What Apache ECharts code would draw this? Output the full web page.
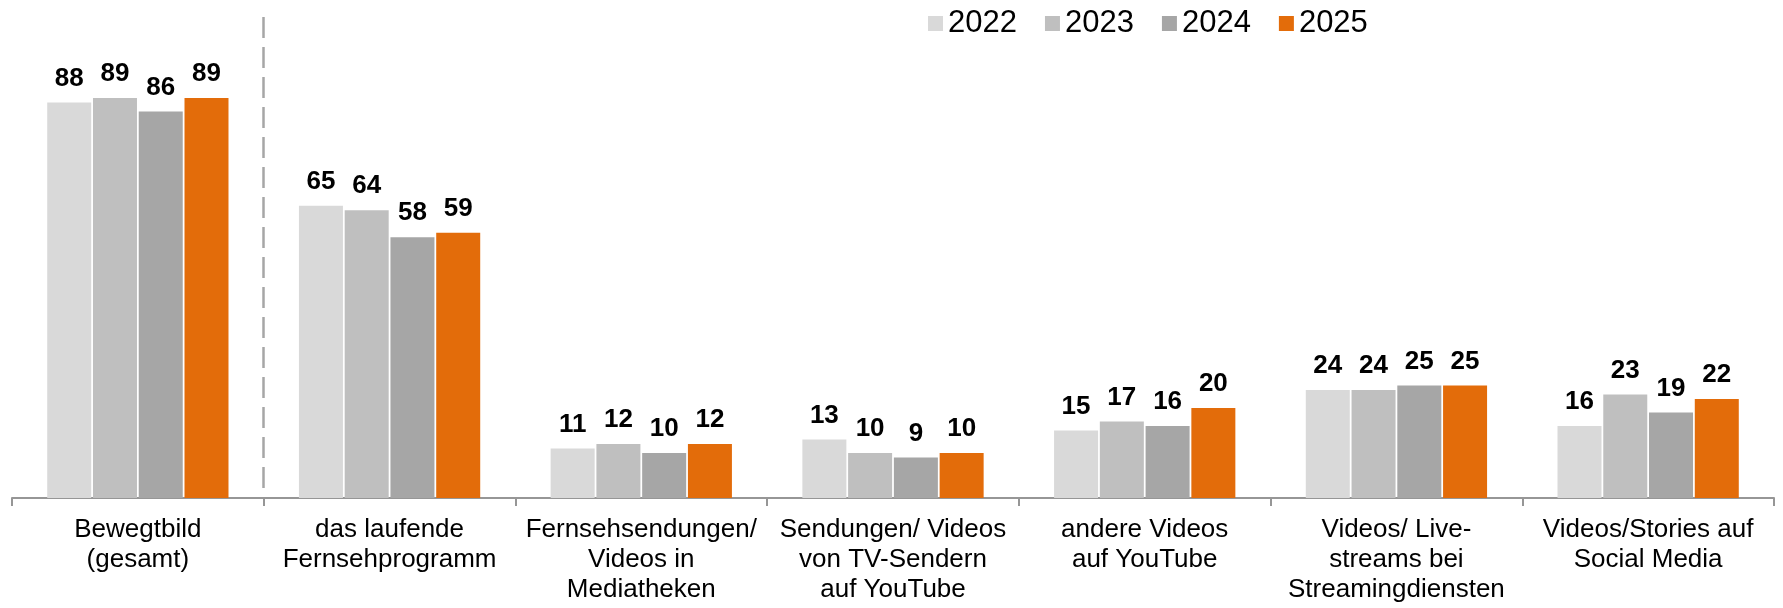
<!DOCTYPE html>
<html lang="de">
  <head>
    <meta charset="UTF-8" />
    <title>Bewegtbild Nutzung</title>
    <script src="https://cdn.jsdelivr.net/npm/echarts@6/dist/echarts.min.js"></script>
    <style>
      html, body { margin: 0; padding: 0; background: #fff; }
      #chart { width: 1783px; height: 608px; }
    </style>
  </head>
  <body>
    <div id="chart"></div>
    <script>
      // Kategorien (x-Achse)
      var categories = [
        'Bewegtbild\n(gesamt)',
        'das laufende\nFernsehprogramm',
        'Fernsehsendungen/\nVideos in\nMediatheken',
        'Sendungen/ Videos\nvon TV-Sendern\nauf YouTube',
        'andere Videos\nauf YouTube',
        'Videos/ Live-\nstreams bei\nStreamingdiensten',
        'Videos/Stories auf\nSocial Media'
      ];

      // Werte je Jahr
      var years = ['2022', '2023', '2024', '2025'];
      var values2022 = [88, 65, 11, 13, 15, 24, 16];
      var values2023 = [89, 64, 12, 10, 17, 24, 23];
      var values2024 = [86, 58, 10, 9, 16, 25, 19];
      var values2025 = [89, 59, 12, 10, 20, 25, 22];

      var colors = ['#d9d9d9', '#bfbfbf', '#a6a6a6', '#e36c0a'];
      var allValues = [values2022, values2023, values2024, values2025];

      // Hilfsachse fuer die gestrichelte Trennlinie (Grenzen 0..7)
      var boundaries = ['0', '1', '2', '3', '4', '5', '6', '7'];

      var chart = echarts.init(document.getElementById('chart'));

      var makeSeries = function (idx) {
        return {
          name: years[idx],
          type: 'bar',
          barWidth: 44,
          barGap: '4%',
          color: colors[idx],
          data: allValues[idx],
          label: {
            show: true,
            position: 'top',
            distance: 11,
            color: '#000',
            fontSize: 26,
            fontWeight: 'bold',
            fontFamily: 'Liberation Sans'
          }
        };
      };

      var option = {
        animation: false,
        textStyle: { fontFamily: 'Liberation Sans' },
        legend: {
          left: 923,
          top: 3,
          itemWidth: 15,
          itemHeight: 15,
          itemGap: 28,
          icon: 'rect',
          selectedMode: false,
          textStyle: { color: '#000', fontSize: 31, fontFamily: 'Liberation Sans' },
          data: years
        },
        grid: {
          left: 12,
          right: 9,
          top: 17,
          bottom: 110,
          containLabel: false
        },
        xAxis: [
          {
            type: 'category',
            data: categories,
            axisLine: { lineStyle: { color: '#969696', width: 2 } },
            axisTick: { show: true, length: 8, lineStyle: { color: '#969696', width: 2 } },
            axisLabel: {
              interval: 0,
              margin: 17,
              color: '#000',
              fontSize: 26,
              lineHeight: 30,
              fontFamily: 'Liberation Sans'
            },
            splitLine: { show: false }
          },
          {
            // nur fuer die gestrichelte Linie nach "Bewegtbild (gesamt)"
            type: 'category',
            data: boundaries,
            boundaryGap: false,
            position: 'top',
            axisLine: { show: false },
            axisTick: { show: false },
            axisLabel: { show: false },
            splitLine: {
              show: true,
              interval: function (index) {
                return index === 1;
              },
              lineStyle: { color: '#a6a6a6', width: 2.5, type: [21, 9] }
            }
          }
        ],
        yAxis: {
          type: 'value',
          show: false,
          min: 0,
          max: 107
        },
        series: [makeSeries(0), makeSeries(1), makeSeries(2), makeSeries(3)]
      };

      chart.setOption(option);
    </script>
  </body>
</html>
